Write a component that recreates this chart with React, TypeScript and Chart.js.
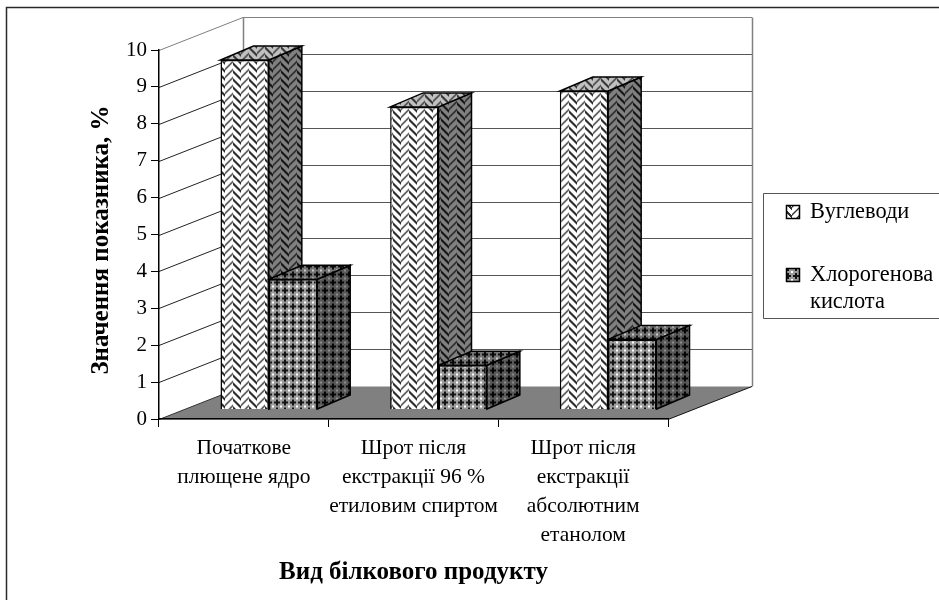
import React, { useEffect, useRef } from "react";
import { Chart, registerables } from "chart.js";

Chart.register(...registerables);

const categories = [
  ["Початкове", "плющене ядро"],
  ["Шрот після", "екстракції 96 %", "етиловим спиртом"],
  ["Шрот після", "екстракції", "абсолютним", "етанолом"],
];
const seriesNames = ["Вуглеводи", "Хлорогенова кислота"];
const carbohydrates = [9.47, 8.2, 8.63];
const chlorogenicAcid = [3.53, 1.2, 1.9];
const yTitle = "Значення показника, %";
const xTitle = "Вид білкового продукту";

const SERIF = '"Liberation Serif", "Times New Roman", serif';
const WALL_DX = 84;
const WALL_DY = 33;
const BAR_DX = 33;
const BAR_DY = 14;
const PLANE_DX = 25;
const PLANE_DY = 9.5;

type Palette = { bg: string; fg: string; hi?: string };

function weaveTile(p: Palette): HTMLCanvasElement {
  const c = document.createElement("canvas");
  c.width = 16;
  c.height = 16;
  const g = c.getContext("2d")!;
  g.fillStyle = p.bg;
  g.fillRect(0, 0, 16, 16);
  for (let y = 0; y < 16; y++) {
    for (let x = 0; x < 16; x++) {
      const u = Math.abs(x - 8);
      const v = (y + u + (x >= 8 ? 3 : 0)) % 8;
      const band = v < 3;
      if (!band) continue;
      g.fillStyle = (x + y) % 2 === 0 ? p.fg : v === 1 ? p.fg : p.hi || p.bg;
      g.fillRect(x, y, 1, 1);
    }
  }
  return c;
}

function dotTile(p: Palette): HTMLCanvasElement {
  const c = document.createElement("canvas");
  c.width = 8;
  c.height = 8;
  const g = c.getContext("2d")!;
  g.fillStyle = p.bg;
  g.fillRect(0, 0, 8, 8);
  g.fillStyle = p.fg;
  g.fillRect(3, 1, 2, 6);
  g.fillRect(1, 3, 6, 2);
  g.fillStyle = p.hi || p.bg;
  g.fillRect(0, 0, 1, 1);
  g.fillRect(7, 7, 1, 1);
  g.fillRect(7, 0, 1, 1);
  g.fillRect(0, 7, 1, 1);
  return c;
}

export default function App() {
  const ref = useRef<HTMLCanvasElement | null>(null);

  useEffect(() => {
    const canvas = ref.current!;
    const ctx = canvas.getContext("2d")!;
    const pat = (t: HTMLCanvasElement) => ctx.createPattern(t, "repeat")!;

    const weaveFront = pat(weaveTile({ bg: "#ffffff", fg: "#2e2e2e", hi: "#a0a0a0" }));
    const weaveSide = pat(weaveTile({ bg: "#808080", fg: "#161616", hi: "#505050" }));
    const weaveTop = pat(weaveTile({ bg: "#c0c0c0", fg: "#383838", hi: "#787878" }));
    const dotFront = pat(dotTile({ bg: "#9c9c9c", fg: "#141414", hi: "#ffffff" }));
    const dotSide = pat(dotTile({ bg: "#585858", fg: "#060606", hi: "#8a8a8a" }));
    const dotTop = pat(dotTile({ bg: "#747474", fg: "#0a0a0a", hi: "#c8c8c8" }));
    const sidePatterns = [weaveSide, dotSide];
    const topPatterns = [weaveTop, dotTop];

    const poly = (pts: number[][], fill?: any, stroke?: string, lw = 1) => {
      ctx.beginPath();
      pts.forEach((p, i) => (i ? ctx.lineTo(p[0], p[1]) : ctx.moveTo(p[0], p[1])));
      ctx.closePath();
      if (fill) {
        ctx.fillStyle = fill;
        ctx.fill();
      }
      if (stroke) {
        ctx.strokeStyle = stroke;
        ctx.lineWidth = lw;
        ctx.stroke();
      }
    };
    const line = (x0: number, y0: number, x1: number, y1: number, color: string, lw = 1) => {
      ctx.beginPath();
      ctx.moveTo(x0, y0);
      ctx.lineTo(x1, y1);
      ctx.strokeStyle = color;
      ctx.lineWidth = lw;
      ctx.stroke();
    };

    const scene = {
      id: "scene",
      beforeDraw(chart: any) {
        const { width, height } = chart;
        const { left, right, top, bottom } = chart.chartArea;
        ctx.save();
        ctx.fillStyle = "#ffffff";
        ctx.fillRect(0, 0, width, height);
        // outer frame
        ctx.strokeStyle = "#2a2a2a";
        ctx.lineWidth = 1.5;
        ctx.strokeRect(6.5, 7.5, width + 40, height + 40);

        // walls
        const yScale = chart.scales.y;
        const bx = left + WALL_DX;
        const br = right + WALL_DX;
        yScale.ticks.forEach((t: any) => {
          const y = Math.round(yScale.getPixelForValue(t.value)) + 0.5;
          if (t.value === 0 || t.value === 10) return;
          line(left, y, bx, y - WALL_DY, "#222222", 1);
          line(bx, y - WALL_DY, br, y - WALL_DY, "#555555", 1);
        });
        const tb = top - WALL_DY + 0.5;
        const bb = bottom - WALL_DY + 0.5;
        line(left, top + 0.5, bx, tb, "#808080", 1);
        line(bx, tb, br, tb, "#808080", 1);
        line(bx + 0.5, tb, bx + 0.5, bb, "#808080", 1.5);
        line(br + 0.5, tb, br + 0.5, bb, "#808080", 1.5);

        // floor
        poly(
          [
            [left, bottom + 0.5],
            [right, bottom + 0.5],
            [br, bb],
            [bx, bb],
          ],
          "#808080"
        );
        line(right, bottom + 0.5, br, bb, "#111111", 1);
        line(left, bottom + 0.5, bx, bb, "#333333", 1);

        // vertical axis title
        ctx.save();
        ctx.translate(102, 240);
        ctx.rotate(-Math.PI / 2);
        ctx.font = `bold 25px ${SERIF}`;
        ctx.fillStyle = "#000000";
        ctx.textAlign = "center";
        ctx.textBaseline = "middle";
        ctx.fillText(yTitle, 0, 0);
        ctx.restore();

        // legend
        poly(
          [
            [763.5, 193.5],
            [width + 5, 193.5],
            [width + 5, 318.5],
            [763.5, 318.5],
          ],
          "#ffffff",
          "#555555",
          1
        );
        const swatches = [weaveFront, dotFront];
        const rows = [212, 275];
        ctx.font = `22.4px ${SERIF}`;
        ctx.textBaseline = "middle";
        ctx.textAlign = "left";
        chart.data.datasets.forEach((ds: any, i: number) => {
          const y = rows[i];
          ctx.fillStyle = swatches[i];
          ctx.fillRect(787, y - 6, 12, 12);
          ctx.strokeStyle = "#000000";
          ctx.lineWidth = 1.5;
          ctx.strokeRect(786.5, y - 6.5, 13, 13);
          ctx.fillStyle = "#000000";
          const words = String(ds.label).split(" ");
          words.forEach((w: string, k: number) => ctx.fillText(w, 810, y + k * 27));
        });
        ctx.restore();
      },
      beforeDatasetsDraw(chart: any) {
        ctx.save();
        ctx.translate(PLANE_DX, -PLANE_DY);
        chart.data.datasets.forEach((_: any, i: number) => {
          chart.getDatasetMeta(i).data.forEach((bar: any) => {
            const half = bar.width / 2;
            const x0 = bar.x - half;
            const x1 = bar.x + half;
            const yt = bar.y;
            const yb = bar.base;
            poly(
              [
                [x1, yt],
                [x1 + BAR_DX, yt - BAR_DY],
                [x1 + BAR_DX, yb - BAR_DY],
                [x1, yb],
              ],
              sidePatterns[i],
              "#000000",
              1.5
            );
            poly(
              [
                [x0, yt],
                [x1, yt],
                [x1 + BAR_DX, yt - BAR_DY],
                [x0 + BAR_DX, yt - BAR_DY],
              ],
              topPatterns[i],
              "#000000",
              1.5
            );
          });
        });
      },
      afterDatasetsDraw() {
        ctx.restore();
      },
    };

    const chart = new Chart(canvas, {
      type: "bar",
      data: {
        labels: categories as any,
        datasets: [
          {
            label: seriesNames[0],
            data: carbohydrates,
            backgroundColor: weaveFront as any,
            borderColor: "#000000",
            borderWidth: 1.5,
          },
          {
            label: seriesNames[1],
            data: chlorogenicAcid,
            backgroundColor: dotFront as any,
            borderColor: "#000000",
            borderWidth: 1.5,
          },
        ],
      },
      options: {
        responsive: false,
        animation: false,
        layout: { padding: { left: 0, right: 271, top: 50, bottom: 0 } },
        datasets: { bar: { categoryPercentage: 0.57, barPercentage: 1 } },
        plugins: { legend: { display: false }, tooltip: { enabled: false }, title: { display: false } },
        scales: {
          x: {
            afterFit: (s: any) => {
              s.height = 181;
            },
            grid: { drawOnChartArea: false, drawTicks: true, tickLength: 8, color: "#000000", lineWidth: 1 },
            border: { color: "#000000", width: 1.5 },
            ticks: {
              color: "#000000",
              font: { family: SERIF, size: 21.5, lineHeight: 1.35 },
              padding: 7,
              maxRotation: 0,
              minRotation: 0,
              autoSkip: false,
            },
            title: {
              display: true,
              text: xTitle,
              color: "#000000",
              font: { family: SERIF, size: 25, weight: "bold", lineHeight: 1.2 },
              padding: { top: 0, bottom: 12 },
            },
          },
          y: {
            min: 0,
            max: 10,
            afterFit: (s: any) => {
              s.width = 159;
            },
            grid: { drawOnChartArea: false, drawTicks: true, tickLength: 8, color: "#000000", lineWidth: 1 },
            border: { color: "#000000", width: 1.5 },
            ticks: {
              stepSize: 1,
              color: "#000000",
              font: { family: SERIF, size: 21 },
              padding: 4,
            },
          },
        },
      },
      plugins: [scene as any],
    } as any);

    return () => chart.destroy();
  }, []);

  return (
    <canvas
      ref={ref}
      width={939}
      height={600}
      style={{ position: "fixed", left: 0, top: 0, display: "block" }}
    />
  );
}
